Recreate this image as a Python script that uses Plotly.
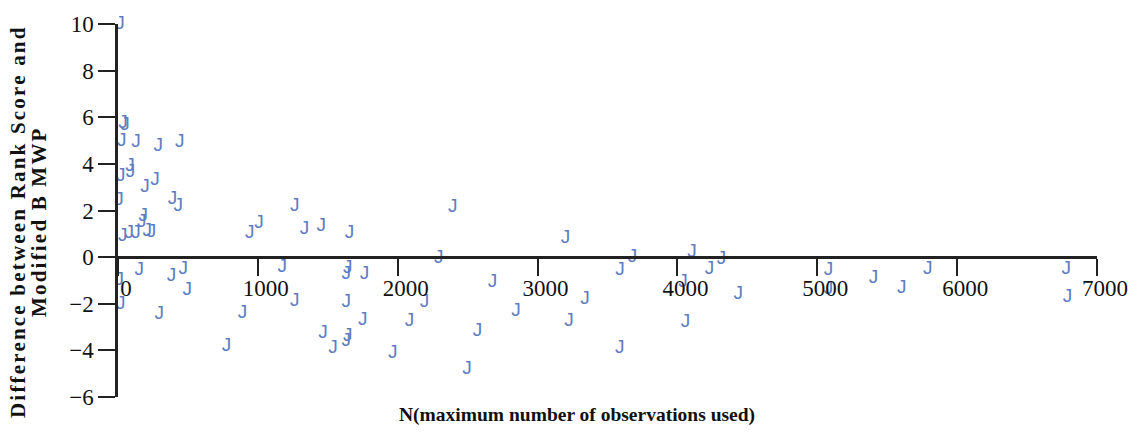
import plotly.graph_objects as go

# N (maximum number of observations used) for each site
n_obs = [15, 35, 50, 26, 128, 288, 442, 85, 90, 20, 193, 264, 7, 390, 430, 1263,
         181, 169, 33, 80, 128, 210, 240, 942, 1008, 1175, 152, 466, 383, 9, 495,
         19, 295, 890, 1263, 776, 1334, 1453, 1655, 2393, 2293, 3200, 1643, 1632,
         1762, 1632, 2191, 2678, 1750, 2084, 2845, 3225, 2571, 1465, 1537, 1643,
         1632, 1965, 2495, 3678, 3589, 4105, 4315, 4229, 4039, 4434, 5081, 5081,
         3339, 4058, 3587, 5402, 5604, 5790, 6781, 6789]

# Difference between rank score and modified BMWP
diff = [10.0, 5.75, 5.65, 4.98, 4.91, 4.77, 4.91, 3.9, 3.62, 3.45, 3.01, 3.29,
        2.42, 2.47, 2.19, 2.19, 1.74, 1.50, 0.90, 1.04, 1.01, 1.11, 1.08, 1.04,
        1.46, -0.44, -0.58, -0.52, -0.82, -1.01, -1.43, -2.0, -2.46, -2.42, -1.89,
        -3.83, 1.18, 1.32, 1.04, 2.14, -0.06, 0.80, -0.46, -0.72, -0.73, -1.92,
        -1.92, -1.08, -2.70, -2.77, -2.32, -2.77, -3.19, -3.26, -3.90, -3.40,
        -3.62, -4.11, -4.81, -0.02, -0.58, 0.22, -0.09, -0.52, -1.08, -1.61,
        -0.58, -1.36, -1.81, -2.80, -3.90, -0.91, -1.33, -0.54, -0.54, -1.71]

x_ticks = [0, 1000, 2000, 3000, 4000, 5000, 6000, 7000]
y_ticks = [-6, -4, -2, 0, 2, 4, 6, 8, 10]

Y_MIN, Y_MAX = -6, 10
AXIS_COLOR = "#222222"
TEXT_COLOR = "#111111"
SERIF = "Liberation Serif, Times New Roman, serif"

fig = go.Figure()
fig.add_trace(go.Scatter(
    x=n_obs, y=diff, mode="text", text=["J"] * len(n_obs),
    textposition="middle center",
    textfont=dict(family="Liberation Sans, Arial, sans-serif", size=19, color="#5e7dbf"),
    cliponaxis=False, hoverinfo="x+y",
))

fig.update_layout(
    width=1140, height=432,
    margin=dict(l=118, r=41, t=19, b=35),
    paper_bgcolor="white", plot_bgcolor="white",
    showlegend=False,
    font=dict(family=SERIF, size=23, color=TEXT_COLOR),
    xaxis=dict(
        range=[0, 7000], tickvals=x_ticks, ticks="outside", ticklen=17,
        tickwidth=1.5, tickcolor=AXIS_COLOR, showline=True, linewidth=2.5,
        linecolor=AXIS_COLOR, showgrid=False, zeroline=False,
        anchor="free", position=(0 - Y_MIN) / (Y_MAX - Y_MIN),
        ticklabelshift=8, ticklabelstandoff=-7,
        tickfont=dict(family=SERIF, size=23, color=TEXT_COLOR),
    ),
    yaxis=dict(
        range=[Y_MIN, Y_MAX], tickvals=y_ticks, ticks="outside", ticklen=17,
        tickwidth=1.5, tickcolor=AXIS_COLOR, showline=True, linewidth=2.5,
        linecolor=AXIS_COLOR, showgrid=False, zeroline=False,
        tickfont=dict(family=SERIF, size=23, color=TEXT_COLOR),
    ),
)

# Axis titles
fig.add_annotation(
    text="<b>N(maximum number of observations used)</b>",
    xref="paper", yref="paper", x=0, y=0, xanchor="center", yanchor="middle",
    xshift=577 - 118, yshift=397 - 415, showarrow=False,
    font=dict(family=SERIF, size=19.5, color=TEXT_COLOR),
)
fig.add_annotation(
    text='<span style="letter-spacing:2.2px"><b>Difference between Rank Score and</b></span>',
    xref="paper", yref="paper", x=0, y=0, xanchor="center", yanchor="middle",
    xshift=18 - 118, yshift=397 - 222, textangle=-90, showarrow=False,
    font=dict(family=SERIF, size=21, color=TEXT_COLOR),
)
fig.add_annotation(
    text='<span style="letter-spacing:2.2px"><b>Modified B MWP</b></span>',
    xref="paper", yref="paper", x=0, y=0, xanchor="center", yanchor="middle",
    xshift=39 - 118, yshift=397 - 222, textangle=-90, showarrow=False,
    font=dict(family=SERIF, size=21, color=TEXT_COLOR),
)

fig.write_html("out.html")
